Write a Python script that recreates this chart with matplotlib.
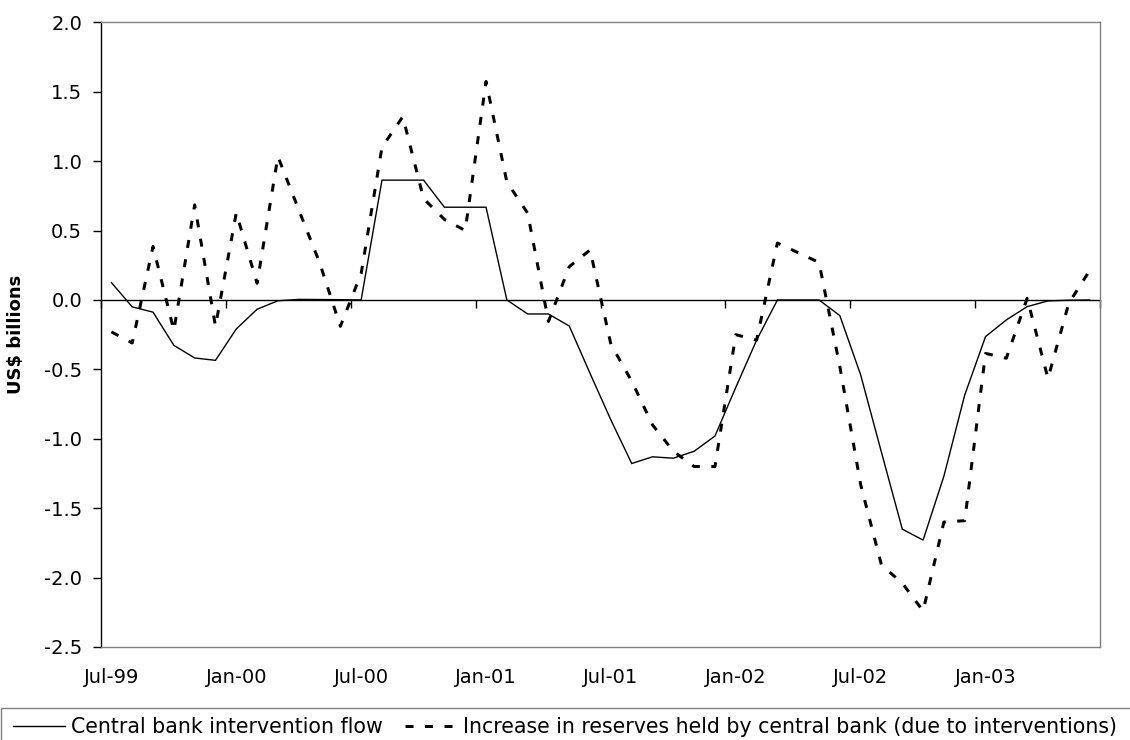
import matplotlib
matplotlib.use("Agg")
import matplotlib.pyplot as plt
import numpy as np
from matplotlib.patches import Rectangle

# ---- data (US$ billions, monthly Jul-99 .. Jun-03) ----
months = ["Jul-99", "Aug-99", "Sep-99", "Oct-99", "Nov-99", "Dec-99",
          "Jan-00", "Feb-00", "Mar-00", "Apr-00", "May-00", "Jun-00",
          "Jul-00", "Aug-00", "Sep-00", "Oct-00", "Nov-00", "Dec-00",
          "Jan-01", "Feb-01", "Mar-01", "Apr-01", "May-01", "Jun-01",
          "Jul-01", "Aug-01", "Sep-01", "Oct-01", "Nov-01", "Dec-01",
          "Jan-02", "Feb-02", "Mar-02", "Apr-02", "May-02", "Jun-02",
          "Jul-02", "Aug-02", "Sep-02", "Oct-02", "Nov-02", "Dec-02",
          "Jan-03", "Feb-03", "Mar-03", "Apr-03", "May-03", "Jun-03"]

intervention_flow = [0.125, -0.05, -0.088, -0.327, -0.418, -0.435,
                     -0.209, -0.067, -0.006, 0.004, 0.003, 0.002,
                     0.0, 0.863, 0.863, 0.863, 0.668, 0.668,
                     0.668, 0.0, -0.101, -0.101, -0.188, -0.53,
                     -0.865, -1.178, -1.13, -1.14, -1.09, -0.98,
                     -0.63, -0.29, 0.0, 0.0, 0.0, -0.113,
                     -0.54, -1.098, -1.651, -1.73, -1.269, -0.685,
                     -0.264, -0.144, -0.048, -0.007, -0.002, 0.0]

reserves_increase = [-0.23, -0.31, 0.385, -0.22, 0.685, -0.19,
                     0.627, 0.12, 1.033, 0.65, 0.27, -0.19,
                     0.19, 1.1, 1.32, 0.73, 0.58, 0.5,
                     1.574, 0.85, 0.625, -0.155, 0.24, 0.36,
                     -0.32, -0.585, -0.9, -1.09, -1.2, -1.2,
                     -0.25, -0.29, 0.41, 0.34, 0.27, -0.48,
                     -1.33, -1.91, -2.04, -2.24, -1.6, -1.59,
                     -0.385, -0.42, 0.012, -0.565, -0.024, 0.211]

tick_labels = ["Jul-99", "Jan-00", "Jul-00", "Jan-01",
               "Jul-01", "Jan-02", "Jul-02", "Jan-03"]

series_names = ["Central bank intervention flow",
                "Increase in reserves held by central bank (due to interventions)"]

plt.rcParams["font.family"] = ["DejaVu Sans"]

W, H = 1130, 740
fig = plt.figure(figsize=(W / 100, H / 100), dpi=100)
ax = fig.add_axes([101 / W, 1 - 647 / H, 999 / W, 624.7 / H])

x = np.arange(len(months))
l1, = ax.plot(x, intervention_flow, color="black", lw=1.0,
              solid_joinstyle="miter", label=series_names[0])
l2, = ax.plot(x, reserves_increase, color="black", lw=2.16,
              linestyle=(0, (2.67, 3.83)), dash_capstyle="butt",
              label=series_names[1])

ax.set_xlim(-0.5, len(months) - 0.5)
ax.set_ylim(-2.5, 2.0)
yt = np.arange(-2.5, 2.01, 0.5)
ax.set_yticks(yt)
ax.set_yticklabels([f"{v:.1f}" for v in yt])

# category labels every 6 months at the bottom
ax.set_xticks(x[::6])
ax.set_xticklabels(tick_labels)
ax.tick_params(axis="x", length=0, pad=15, labelsize=14)
ax.tick_params(axis="y", direction="out", length=5.5, width=1,
               pad=8, labelsize=14, color="black")

for s in ["top", "right", "bottom"]:
    ax.spines[s].set_color("#808080")
    ax.spines[s].set_linewidth(1)
ax.spines["left"].set_color("black")
ax.spines["left"].set_linewidth(1)

# category axis crossing at zero with tick marks between categories
sec = ax.secondary_xaxis(2.5 / 4.5)
sec.set_xticks(np.arange(-0.5, len(months), 6))
sec.tick_params(axis="x", direction="in", length=6, width=1,
                labeltop=False, labelbottom=False, color="black")
for s in sec.spines.values():
    s.set_color("black")
    s.set_linewidth(1)

ax.set_ylabel("US$ billions", fontsize=13, fontweight="bold")
ax.yaxis.set_label_coords((25.5 - 101) / 999, 0.5)

# legend box (extends beyond the figure edge as in the reference)
fig.add_artist(Rectangle((1 / W, -0.1), 1.2, (H - 708) / H + 0.1,
                         transform=fig.transFigure, fill=False,
                         edgecolor="#808080", lw=1))
fig.legend(handles=[l1, l2], loc="center left",
           bbox_to_anchor=(13.3 / W, 1 - 727 / H), ncol=2, frameon=False,
           fontsize=14.8, handlelength=2.5, handletextpad=0.32,
           columnspacing=1.07, borderpad=0, borderaxespad=0)

fig.savefig("out.png", dpi=100)
